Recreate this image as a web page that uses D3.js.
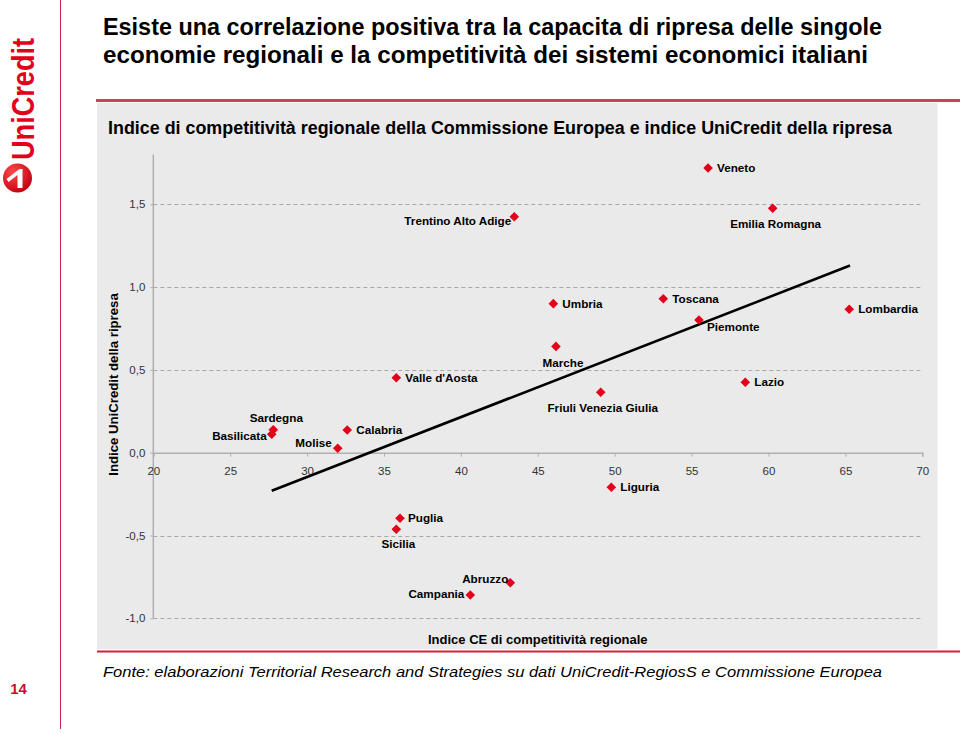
<!DOCTYPE html>
<html>
<head>
<meta charset="utf-8">
<script src="https://cdn.jsdelivr.net/npm/d3@7"></script>
<style>
  html, body { margin: 0; padding: 0; background: #fff; }
  svg { display: block; font-family: "Liberation Sans", Arial, Helvetica, sans-serif; }
</style>
</head>
<body>
<svg id="chart" width="960" height="734"></svg>
<script>
// ---------------- DATA ----------------
const regions = ["Veneto","Trentino Alto Adige","Emilia Romagna","Umbria","Toscana","Piemonte","Lombardia",
  "Marche","Friuli Venezia Giulia","Lazio","Liguria","Valle d'Aosta","Sardegna","Basilicata","Calabria",
  "Molise","Puglia","Sicilia","Abruzzo","Campania"];
const competitiveness = [56.07, 43.47, 60.27, 46.01, 53.16, 55.48, 65.25,
  46.18, 49.09, 58.49, 49.78, 35.80, 27.80, 27.70, 32.61,
  31.99, 36.04, 35.80, 43.21, 40.61];
const recovery = [1.719, 1.425, 1.476, 0.900, 0.930, 0.801, 0.866,
  0.642, 0.365, 0.425, -0.209, 0.453, 0.139, 0.111, 0.137,
  0.027, -0.396, -0.462, -0.785, -0.859];
const trendX = [27.7, 65.3];
const trendY = [-0.23, 1.13];
const xTicks = [20, 25, 30, 35, 40, 45, 50, 55, 60, 65, 70];
const yTicks = [-1.0, -0.5, 0.0, 0.5, 1.0, 1.5];

const titleLines = ["Esiste una correlazione positiva tra la capacita di ripresa delle singole",
  "economie regionali e la competitività dei sistemi economici italiani"];
const subtitle = "Indice di competitività regionale della Commissione Europea e indice UniCredit della ripresa";
const xTitle = "Indice CE di competitività regionale";
const yTitle = "Indice UniCredit della ripresa";
const source = "Fonte: elaborazioni Territorial Research and Strategies su dati UniCredit-RegiosS e Commissione Europea";
const pageNumber = "14";

// ---------------- LABEL PLACEMENT (layout only) ----------------
const placement = {
  "Veneto": ["start", 9, 0], "Trentino Alto Adige": ["end", -3, 4], "Emilia Romagna": ["middle", 3, 16],
  "Umbria": ["start", 9, 0], "Toscana": ["start", 9, 0], "Piemonte": ["start", 8, 7],
  "Lombardia": ["start", 9, 0], "Marche": ["middle", 7, 17], "Friuli Venezia Giulia": ["middle", 2, 16],
  "Lazio": ["start", 9, 0], "Liguria": ["start", 9, 0], "Valle d'Aosta": ["start", 9, 0],
  "Sardegna": ["middle", 3, -12], "Basilicata": ["end", -5, 2], "Calabria": ["start", 9, 0],
  "Molise": ["end", -6, -5], "Puglia": ["start", 8, 0], "Sicilia": ["middle", 2, 15],
  "Abruzzo": ["end", -2, -4], "Campania": ["end", -6, -1]
};

const svg = d3.select("#chart");
const RED = "#E2001A";

// ---------------- PAGE FRAME ----------------
svg.append("line").attr("x1", 60.5).attr("x2", 60.5).attr("y1", 0).attr("y2", 729)
  .attr("stroke", "#D42045").attr("stroke-width", 1);

// UniCredit logo
svg.append("text").attr("transform", "translate(34,160) rotate(-90)")
  .attr("font-size", 32).attr("font-weight", "bold").attr("fill", RED)
  .attr("textLength", 122).attr("lengthAdjust", "spacingAndGlyphs")
  .text("UniCredit");
const logo = svg.append("g").attr("transform", "translate(17.5,178)");
const grad = svg.append("defs").append("radialGradient").attr("id", "lg")
  .attr("cx", "35%").attr("cy", "30%").attr("r", "75%");
grad.append("stop").attr("offset", "0%").attr("stop-color", "#FF4A4A");
grad.append("stop").attr("offset", "100%").attr("stop-color", "#C00010");
logo.append("circle").attr("r", 14.5).attr("fill", "url(#lg)");
logo.append("path").attr("d", "M-11,1 L2,-9 L5,-9 L5,10 L0,10 L0,-3 L-9,4 Z").attr("fill", "#fff");

svg.append("text").attr("x", 18.5).attr("y", 689).attr("dy", "0.35em").attr("text-anchor", "middle")
  .attr("font-size", 15).attr("font-weight", "bold").attr("fill", "#C8102E").text(pageNumber);

// Title
titleLines.forEach((t, i) => {
  svg.append("text").attr("x", 103).attr("y", 35 + i * 28)
    .attr("font-size", 23).attr("font-weight", "bold").attr("fill", "#000")
    .attr("textLength", i === 0 ? 779 : 765).attr("lengthAdjust", "spacingAndGlyphs").text(t);
});
svg.append("line").attr("x1", 96).attr("x2", 960).attr("y1", 100.5).attr("y2", 100.5)
  .attr("stroke", "#C0465A").attr("stroke-width", 3);

// Grey panel
svg.append("rect").attr("x", 97).attr("y", 103).attr("width", 840.5).attr("height", 546).attr("fill", "#EAEAEA");
svg.append("line").attr("x1", 97).attr("x2", 960).attr("y1", 651.5).attr("y2", 651.5)
  .attr("stroke", "#D21F3C").attr("stroke-width", 2);

// Subtitle
svg.append("text").attr("x", 108).attr("y", 128).attr("dy", "0.35em")
  .attr("font-size", 17.5).attr("font-weight", "bold").attr("fill", "#000")
  .attr("textLength", 784).attr("lengthAdjust", "spacingAndGlyphs").text(subtitle);

// Source
svg.append("text").attr("x", 103).attr("y", 672).attr("dy", "0.35em")
  .attr("font-size", 15).attr("font-style", "italic").attr("fill", "#000")
  .attr("textLength", 779).attr("lengthAdjust", "spacingAndGlyphs").text(source);

// ---------------- CHART ----------------
const x = d3.scaleLinear().domain([20, 70]).range([153.3, 922.3]);
const y = d3.scaleLinear().domain([-1, 1.5]).range([618.3, 204.3]);
const fmt = v => v.toFixed(1).replace(".", ",");

// gridlines
svg.append("g").selectAll("line").data(yTicks.filter(v => v !== 0)).join("line")
  .attr("x1", x(20)).attr("x2", x(70))
  .attr("y1", d => Math.round(y(d)) + 0.5).attr("y2", d => Math.round(y(d)) + 0.5)
  .attr("stroke", "#A8A8A8").attr("stroke-width", 1).attr("stroke-dasharray", "4,3");

// y axis
const yAxis = svg.append("g").attr("transform", `translate(${x(20)},0)`)
  .call(d3.axisLeft(y).tickValues(yTicks).tickFormat(fmt).tickSize(3).tickPadding(5));
yAxis.select(".domain").remove();
yAxis.append("line").attr("x1", 0).attr("x2", 0).attr("y1", y(1.8)).attr("y2", y(-1))
  .attr("stroke", "#B0B0B0").attr("stroke-width", 1.5);
yAxis.selectAll(".tick line").attr("stroke", "#B0B0B0");
yAxis.selectAll(".tick text").attr("font-size", 11.5).attr("fill", "#333")
  .attr("font-family", "'Liberation Sans', Arial, sans-serif");

// x axis
const xAxis = svg.append("g").attr("transform", `translate(0,${y(0)})`)
  .call(d3.axisBottom(x).tickValues(xTicks).tickFormat(d => d).tickSize(4).tickPadding(10));
xAxis.select(".domain").attr("stroke", "#B0B0B0").attr("stroke-width", 1.5);
xAxis.selectAll(".tick line").attr("stroke", "#B0B0B0");
xAxis.selectAll(".tick text").attr("font-size", 11.5).attr("fill", "#333")
  .attr("font-family", "'Liberation Sans', Arial, sans-serif");

// axis titles
svg.append("text").attr("x", 428).attr("y", 639).attr("dy", "0.35em")
  .attr("font-size", 13).attr("font-weight", "bold").attr("fill", "#000").text(xTitle);
svg.append("text").attr("transform", "translate(113,384.5) rotate(-90)").attr("dy", "0.35em")
  .attr("text-anchor", "middle").attr("font-size", 13.2).attr("font-weight", "bold")
  .attr("fill", "#000").text(yTitle);

// trend line
const trend = trendX.map((v, i) => [v, trendY[i]]);
svg.append("path").datum(trend)
  .attr("d", d3.line().x(d => x(d[0])).y(d => y(d[1])))
  .attr("stroke", "#000").attr("stroke-width", 2.6).attr("fill", "none");

// points
const pts = regions.map((r, i) => ({ name: r, cx: competitiveness[i], cy: recovery[i] }));
svg.append("g").selectAll("path").data(pts).join("path")
  .attr("d", d3.symbol(d3.symbolSquare, 46))
  .attr("transform", d => `translate(${x(d.cx)},${y(d.cy)}) rotate(45)`)
  .attr("fill", RED);

// labels
svg.append("g").selectAll("text").data(pts).join("text")
  .attr("x", d => x(d.cx) + placement[d.name][1])
  .attr("y", d => y(d.cy) + placement[d.name][2])
  .attr("dy", "0.35em")
  .attr("text-anchor", d => placement[d.name][0])
  .attr("font-size", 11.7).attr("font-weight", "bold").attr("fill", "#000")
  .text(d => d.name);
</script>
</body>
</html>
